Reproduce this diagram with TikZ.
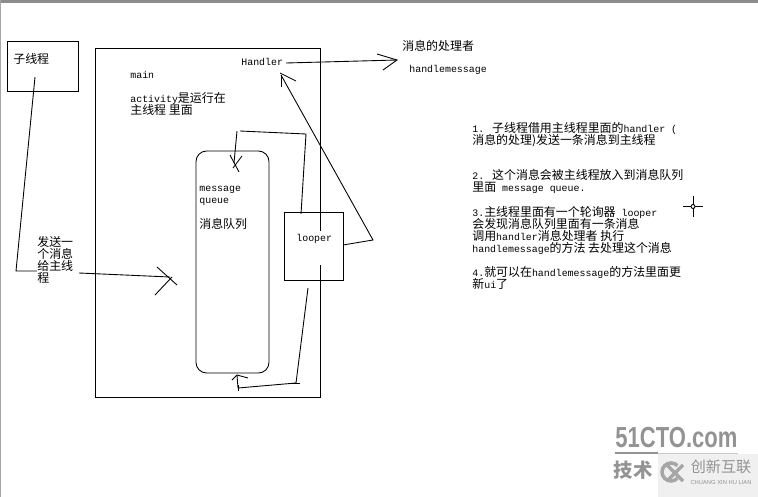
\documentclass[tikz,border=0pt]{standalone}
\usepackage{fontspec}
\setmainfont[Scale=0.83]{Liberation Mono}
\newfontfamily\cjk{Noto Sans CJK SC}
\newfontfamily\wmfont{Liberation Sans}
\newcommand{\zh}[1]{{\cjk #1}}
\AtBeginDocument{\lineskiplimit=-10pt \normallineskiplimit=-10pt}
\tikzset{
  line/.style={line width=0.5pt, black},
  box/.style={draw, line width=0.5pt, inner sep=0pt, outer sep=0pt},
  label/.style={anchor=north west, inner sep=0pt, align=left, font=\fontsize{6.8}{6.8}\selectfont},
  wm/.style={inner sep=0pt, text=gray!85}
}
\begin{document}
\begin{tikzpicture}[x=0.02cm, y=-0.02cm]
  \useasboundingbox (0,0) rectangle (758,497);
  \fill[gray!90] (0,0) rectangle (758,3);
  \fill[gray!70] (0,0) rectangle (1,497);

  \node[box, minimum width=1.42cm, minimum height=1cm] (thread) at (42.5,66) {};
  \node[box, minimum width=4.5cm, minimum height=6.98cm] (main) at (207.5,222.5) {};
  \node[box, rounded corners=6pt, minimum width=1.46cm, minimum height=4.44cm] (queue) at (232.5,262) {};
  \node[box, minimum width=1.18cm, minimum height=1.36cm] (looper) at (313.5,246) {};
  \fill[white] (316,231) rectangle (324,265);

  \node[label] (threadtext) at (13,53) {\zh{子线程}};
  \node[label] (maintext) at (130,71) {main};
  \node[label] (activity) at (130,92) {activity\zh{是运行在}\\\zh{主线程 里面}};
  \node[label] (handler) at (241,58) {Handler};
  \node[label] (queuetext) at (199,186) {message\\queue};
  \node[label] (queuezh) at (199,218) {\zh{消息队列}};
  \node[label] (loopertext) at (296,234) {looper};
  \node[label] (sendtext) at (37,236) {\zh{发送一}\\\zh{个消息}\\\zh{给主线}\\\zh{程}};
  \node[label] (owner) at (402,40) {\zh{消息的处理者}};
  \node[label] (handletext) at (409,65) {handlemessage};

  \node[label] (stepone) at (472,122) {1. \zh{子线程借用主线程里面的}handler (\\\zh{消息的处理)发送一条消息到主线程}};
  \node[label] (steptwo) at (472,169) {2. \zh{这个消息会被主线程放入到消息队列}\\\zh{里面} message queue.};
  \node[label] (stepthree) at (472,206) {3.\zh{主线程里面有一个轮询器} looper\\\zh{会发现消息队列里面有一条消息}\\\zh{调用}handler\zh{消息处理者 执行}\\handlemessage\zh{的方法 去处理这个消息}};
  \node[label] (stepfour) at (472,266) {4.\zh{就可以在}handlemessage\zh{的方法里面更}\\\zh{新}ui\zh{了}};

  \coordinate (threadout) at (35,77);
  \coordinate (threadbend) at (16,271);
  \coordinate (sendin) at (37,271);
  \coordinate (sendout) at (79,273);
  \coordinate (sendtip) at (170,277);
  \draw[line] (threadout) -- (threadbend) -- (sendin);
  \draw[line] (sendout) -- (sendtip);
  \draw[line] (157,267) -- (177,285);
  \draw[line] (155,295) -- (172,277);

  \coordinate (handlerout) at (286,63);
  \coordinate (ownertip) at (397,60);
  \draw[line] (handlerout) -- (ownertip);
  \draw[line] (377,54) -- (ownertip) -- (383,70);

  \coordinate (looperright) at (343,245);
  \coordinate (looperbend) at (373,240);
  \coordinate (handlertip) at (281,75);
  \draw[line] (looperright) -- (looperbend) -- (handlertip);
  \draw[line] (280,73) -- (296,81);
  \draw[line] (281,75) -- (281,87);

  \coordinate (looperup) at (301,214);
  \coordinate (upbend) at (306,134);
  \coordinate (upend) at (240,131);
  \coordinate (downstart) at (237,131);
  \coordinate (queuetip) at (234,163);
  \draw[line] (looperup) -- (upbend) -- (upend);
  \draw[line] (downstart) -- (queuetip);
  \draw[line] (230,155) -- (239,172);
  \draw[line] (242,156) -- (233,168);

  \coordinate (looperdown) at (308,288);
  \coordinate (downbend) at (296,383);
  \coordinate (lowbend) at (238,388);
  \coordinate (bottomtip) at (237,375);
  \draw[line] (looperdown) -- (downbend) -- (lowbend) -- (bottomtip);
  \draw[line] (292,383) -- (300,383);
  \draw[line] (238,385) -- (238,391);
  \draw[line] (232,380) -- (bottomtip) -- (248,378);

  \draw[line] (683,206.5) -- (703,206.5);
  \draw[line] (693,196) -- (693,217);
  \draw[line, fill=white] (693,206.5) circle (2);

  \node[wm, font=\wmfont\bfseries\fontsize{16.5}{16.5}\selectfont, xscale=0.76] (brand) at (676.5,438) {51CTO.com};
  \node[wm, font=\cjk\bfseries\fontsize{11}{11}\selectfont] (tech) at (633,470) {技术};
  \draw[gray!85, line width=1pt] (615,453) -- (658,453);
  \draw[gray!40, line width=0.5pt] (658,453) -- (738,453);
  \fill[gray!12] (658,453.5) rectangle (758,497);
  \draw[gray!70, line width=2pt] (677.4,465.6) arc (-45:-315:9);
  \draw[gray!70, line width=2pt] (667,465) -- (683,481);
  \draw[gray!70, line width=2pt] (667,481) -- (683,465);
  \node[wm, font=\cjk\fontsize{8.6}{8.6}\selectfont] (logotext) at (721,467) {创新互联};
  \node[wm, font=\wmfont\fontsize{3.3}{3.3}\selectfont] (logosub) at (721,483) {CHUANG XIN HU LIAN};
\end{tikzpicture}
\end{document}
